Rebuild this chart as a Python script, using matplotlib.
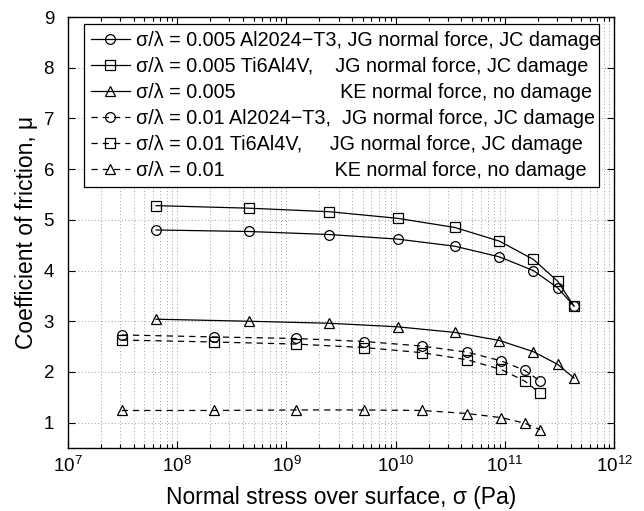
import numpy as np
import matplotlib
matplotlib.use("Agg")
import matplotlib.pyplot as plt
from matplotlib.font_manager import FontProperties
from matplotlib.textpath import TextToPath

plt.rcParams['font.family'] = ['Liberation Sans', 'DejaVu Sans']
plt.rcParams['mathtext.fontset'] = 'custom'
plt.rcParams['mathtext.rm'] = 'Liberation Sans'

# normal stress (Pa) for the two roughness ratios
stress_005 = [6.4e7, 4.5e8, 2.47e9, 1.04e10, 3.47e10, 8.9e10, 1.82e11, 3.04e11, 4.29e11]
stress_001 = [3.1e7, 2.19e8, 1.22e9, 5.18e9, 1.75e10, 4.5e10, 9.2e10, 1.52e11, 2.1e11]

# coefficient of friction
mu_al_005 = [4.80, 4.77, 4.71, 4.62, 4.48, 4.27, 4.00, 3.66, 3.30]
mu_ti_005 = [5.28, 5.23, 5.16, 5.03, 4.85, 4.58, 4.22, 3.79, 3.30]
mu_ke_005 = [3.04, 3.00, 2.96, 2.89, 2.78, 2.62, 2.40, 2.15, 1.88]
mu_al_001 = [2.73, 2.69, 2.66, 2.60, 2.51, 2.39, 2.22, 2.03, 1.82]
mu_ti_001 = [2.63, 2.59, 2.55, 2.48, 2.38, 2.24, 2.05, 1.82, 1.58]
mu_ke_001 = [1.24, 1.24, 1.25, 1.25, 1.24, 1.18, 1.10, 0.99, 0.86]

case_names = ["σ/λ = 0.005 Al2024−T3,", "σ/λ = 0.005 Ti6Al4V,", "σ/λ = 0.005",
              "σ/λ = 0.01 Al2024−T3,", "σ/λ = 0.01 Ti6Al4V,", "σ/λ = 0.01"]
model_names = ["JG normal force, JC damage", "JG normal force, JC damage",
               "KE normal force, no damage", "JG normal force, JC damage",
               "JG normal force, JC damage", "KE normal force, no damage"]

series = [
    (stress_005, mu_al_005, 'o', '-'),
    (stress_005, mu_ti_005, 's', '-'),
    (stress_005, mu_ke_005, '^', '-'),
    (stress_001, mu_al_001, 'o', '--'),
    (stress_001, mu_ti_001, 's', '--'),
    (stress_001, mu_ke_001, '^', '--'),
]

LEG_FS = 14.2

# pad the legend entries with spaces so the model column lines up roughly
prop = FontProperties(family='Liberation Sans', size=LEG_FS)
t2p = TextToPath()
width = lambda s: t2p.get_text_width_height_descent(s, prop, ismath=False)[0]
w_space = width("a a") - width("aa")
col = width(case_names[0]) + w_space
shift = [0, -2.2, -1.8, -1.0, -3.1, -2.7]  # in spaces, relative to the first row
labels = []
for name, model, d in zip(case_names, model_names, shift):
    n = max(1, int(round((col - width(name)) / w_space + d)))
    labels.append(name + " " * n + model)

fig = plt.figure(figsize=(6.44, 5.11), dpi=100)
ax = fig.add_axes([0.1056, 0.1233, 0.848, 0.8434])

for (x, y, m, ls), lab in zip(series, labels):
    ax.plot(x, y, color='k', ls=ls, lw=0.9, marker=m, ms=7,
            mfc='none', mec='k', mew=0.9, label=lab,
            dashes=(5, 4) if ls == '--' else (None, None))

ax.set_xscale('log')
ax.set_xlim(1e7, 1e12)
ax.set_ylim(0.5, 9)
ax.set_yticks(range(1, 10))

ax.grid(True, which='major', axis='both', ls=(0, (1, 3)), color='0.5', lw=0.6)
ax.grid(True, which='minor', axis='x', ls=(0, (1, 3)), color='0.5', lw=0.6)
ax.tick_params(which='both', direction='in', top=True, right=True,
               labelsize=13.5, width=0.8)
ax.tick_params(which='major', length=5)
ax.tick_params(which='minor', length=3)
ax.tick_params(axis='y', pad=10)
ax.tick_params(axis='x', pad=6)
for s in ax.spines.values():
    s.set_linewidth(1.0)

ax.set_xlabel("Normal stress over surface, σ (Pa)", fontsize=16.5, labelpad=7)
ax.set_ylabel("Coefficient of friction, μ", fontsize=16.5, labelpad=4)

leg = ax.legend(loc='upper left', bbox_to_anchor=(0.029, 0.603, 0.944, 0.381),
                mode='expand', fontsize=LEG_FS,
                frameon=True, fancybox=False, edgecolor='k', framealpha=1,
                handlelength=2.0, handletextpad=0.3, labelspacing=0.36,
                borderpad=0.35, borderaxespad=0)
leg.get_frame().set_linewidth(0.9)

fig.savefig("out.png", dpi=100)
